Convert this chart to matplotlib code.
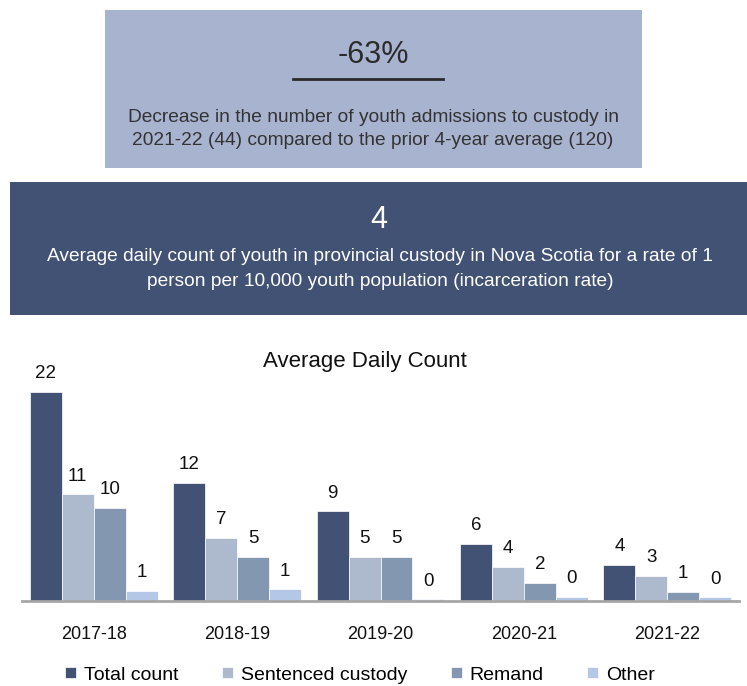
import matplotlib.pyplot as plt
import matplotlib.patches as patches
import numpy as np

plt.rcParams['font.family'] = ['Liberation Sans', 'DejaVu Sans']

years = ['2017-18', '2018-19', '2019-20', '2020-21', '2021-22']
series_names = ['Total count', 'Sentenced custody', 'Remand', 'Other']
total_count = [22.0, 12.4, 9.4, 6.0, 3.8]
sentenced = [11.2, 6.6, 4.6, 3.6, 2.6]
remand = [9.8, 4.6, 4.6, 1.9, 0.9]
other = [1.0, 1.2, 0.15, 0.4, 0.35]
colors = ['#425275', '#adb9cc', '#8497b0', '#b4c7e7']

W, H = 747, 686
fig = plt.figure(figsize=(W / 100, H / 100), dpi=100)
fig.patch.set_facecolor('white')

# background layer in pixel coordinates for the two info boxes
bg = fig.add_axes([0, 0, 1, 1])
bg.set_xlim(0, W)
bg.set_ylim(H, 0)
bg.axis('off')

bg.add_patch(patches.Rectangle((105, 10), 537, 158, facecolor='#a8b3cf', edgecolor='none'))
bg.text(373, 55, '-63%', ha='center', va='center', fontsize=22, color='#2b2b2b')
bg.plot([293, 443], [79, 79], color='#2b2b2b', lw=2)
bg.text(373, 129, 'Decrease in the number of youth admissions to custody in\n'
        '2021-22 (44) compared to the prior 4-year average (120)',
        ha='center', va='center', fontsize=13.8, color='#333333', linespacing=1.5)

bg.add_patch(patches.Rectangle((10, 182), 740, 133, facecolor='#425275', edgecolor='none'))
bg.text(379, 220, '4', ha='center', va='center', fontsize=22, color='white')
bg.text(380, 269, 'Average daily count of youth in provincial custody in Nova Scotia for a rate of 1\n'
        'person per 10,000 youth population (incarceration rate)',
        ha='center', va='center', fontsize=13.8, color='white', linespacing=1.55)

# bar chart
ax = fig.add_axes([22 / W, (H - 600.7) / H, 717 / W, 237.5 / H])
x = np.arange(len(years))
bw = 0.223
data = [total_count, sentenced, remand, other]
bars = []
for i, (vals, c, name) in enumerate(zip(data, colors, series_names)):
    b = ax.bar(x + (i - 1.5) * bw, vals, bw, color=c, edgecolor='white', linewidth=0.5, label=name)
    bars.append(b)
    for xi, v in zip(x, vals):
        ax.annotate(f'{v:.0f}', (xi + (i - 1.5) * bw, v), xytext=(0, 7), textcoords='offset points',
                    ha='center', va='bottom', fontsize=13.5, color='#111111')

ax.set_xlim(-0.5, 4.5)
ax.set_ylim(0, 25)
ax.set_xticks(x)
ax.set_xticklabels(years, fontsize=13, color='#111111')
ax.tick_params(axis='x', length=0, pad=18)
ax.set_yticks([])
for s in ['top', 'right', 'left']:
    ax.spines[s].set_visible(False)
ax.spines['bottom'].set_color('#a6a6a6')
ax.spines['bottom'].set_linewidth(2)
ax.set_facecolor('none')

fig.text(365 / W, 1 - 361 / H, 'Average Daily Count', ha='center', va='center', fontsize=16, color='#111111')

fig.legend(handles=bars, labels=series_names, loc='center', bbox_to_anchor=(360 / W, 1 - 675 / H),
           ncol=4, frameon=False, fontsize=14, handlelength=0.55, handleheight=0.55,
           handletextpad=0.4, columnspacing=2.25)

plt.savefig('out.png', dpi=100)
